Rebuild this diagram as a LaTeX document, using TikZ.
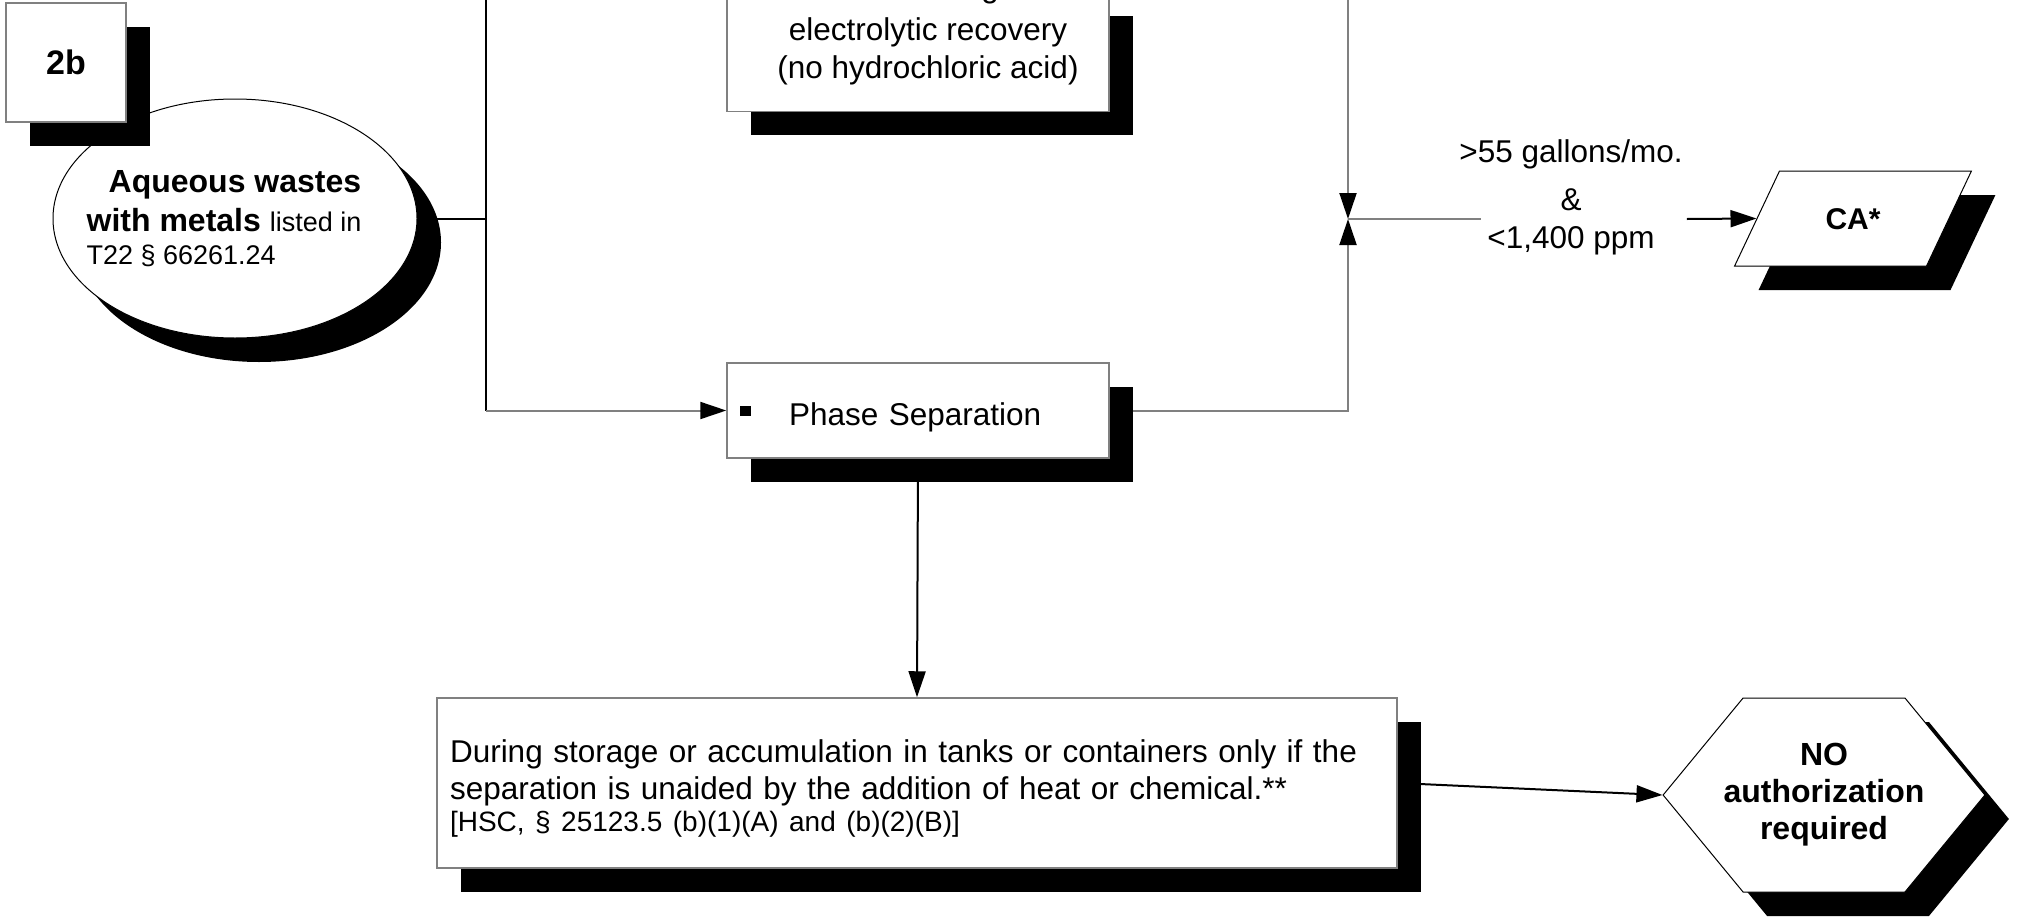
\documentclass[tikz,border=0pt]{standalone}
\usepackage{fontspec}
\setmainfont{Liberation Sans}
\usetikzlibrary{shapes.geometric,shapes.symbols,shadows,arrows.meta,backgrounds,calc}
\definecolor{linegray}{RGB}{128,128,128}
\tikzset{
  blackshadow/.style={drop shadow={shadow xshift=24pt,shadow yshift=-24pt,fill=black,opacity=1}},
  graybox/.style={rectangle,draw=linegray,line width=1.5pt,fill=white,blackshadow,inner sep=13pt},
  txt/.style={font=\fontsize{31.5}{38}\selectfont},
  boldtxt/.style={font=\fontsize{32}{37}\selectfont\bfseries},
  conn/.style={line width=2pt,black},
  grayconn/.style={line width=2pt,linegray},
  arrowtip/.style={-{Triangle[length=26pt,width=17pt,color=black]}}
}

\begin{document}
\begin{tikzpicture}[x=1pt,y=-1pt]
\useasboundingbox (0,0) rectangle (2017,918);

% input waste and its tag
\node (waste) [ellipse, draw=black, line width=1pt, fill=white, blackshadow,
    minimum width=364pt, minimum height=239pt, inner xsep=-20pt, inner ysep=0pt,
    align=left, font=\fontsize{32}{37}\selectfont] at (235,218.5)
    {\hspace*{22pt}\textbf{Aqueous wastes}\\[2pt]
     \textbf{with metals} {\fontsize{27}{33}\selectfont listed in}\rule{22pt}{0pt}\\[-4pt]
     {\fontsize{27}{33}\selectfont T22 § 66261.24}};
\node (tag) [graybox, minimum width=120pt, minimum height=119pt,
    font=\fontsize{34}{40}\selectfont\bfseries] at (66,62.5) {2b};

% treatment steps
\node (recov) [graybox, anchor=south, minimum width=382pt, minimum height=119pt,
    align=center, txt] at (918,112)
    {\hspace*{20pt}electrolytic recovery\\\hspace*{20pt}(no hydrochloric acid)};
\node (cutg) [txt, anchor=base, inner sep=0pt] at (990,-2) {g};
\node (phase) [graybox, minimum width=382pt, minimum height=95pt,
    text width=356pt, align=left, txt] at (918,410.5)
    {\rule{0pt}{36pt}\rule[9pt]{11pt}{10pt}\hspace{38pt}Phase Separation};
\node (cond) [graybox, minimum width=960pt, minimum height=170pt,
    text width=934pt, align=left, font=\fontsize{31.5}{37}\selectfont] at (917,783)
    {\rule{0pt}{34pt}During storage or accumulation in tanks or containers only if the\\
     separation is unaided by the addition of heat or chemical.**\\[-5pt]
     {\fontsize{28}{33}\selectfont [HSC, § 25123.5 (b)(1)(A) and (b)(2)(B)]}};

% results
\node (qty) [txt, align=center, inner xsep=0pt] at (1571,197)
    {>55 gallons/mo.\\[10pt]\&\\<1,400 ppm};
\node (ca) [trapezium, trapezium left angle=64.7, trapezium right angle=115.3,
    text height=21.5pt, text depth=0pt, inner xsep=46pt, inner ysep=36.75pt,
    draw=black, line width=1pt, fill=white, blackshadow,
    font=\fontsize{30}{36}\selectfont\bfseries] at (1853,218.5) {CA*};
\node (noauth) [signal, signal to=west and east, signal pointer angle=101,
    minimum height=194pt, inner xsep=-19.5pt, inner ysep=0pt,
    draw=black, line width=1pt, fill=white, blackshadow, boldtxt, align=center]
    at (1824,795) {NO\\authorization\\required};

\coordinate (inL) at (486,-20);
\coordinate (inR) at (1348,-20);
\coordinate (junct) at (1348,219);

\begin{scope}[on background layer]
\draw [conn] (waste.east) -- (waste.east -| inL);
\draw [conn] (inL) -- (inL |- phase.west);
\draw [grayconn, arrowtip] (inL |- phase.west) -- (phase.west);
\draw [grayconn, arrowtip] (inR) -- (junct);
\draw [grayconn, arrowtip] (phase.east) -| (junct);
\draw [grayconn] (junct) -- ($(junct -| qty.west)+(22,0)$);
\draw [conn, arrowtip] ($(junct -| qty.east)+(4,0)$) -- (ca.west);
\draw [conn, arrowtip] (phase.south) -- (cond.north);
\draw [conn, arrowtip] (cond.east) -- (noauth.west);
\end{scope}
\end{tikzpicture}
\end{document}
